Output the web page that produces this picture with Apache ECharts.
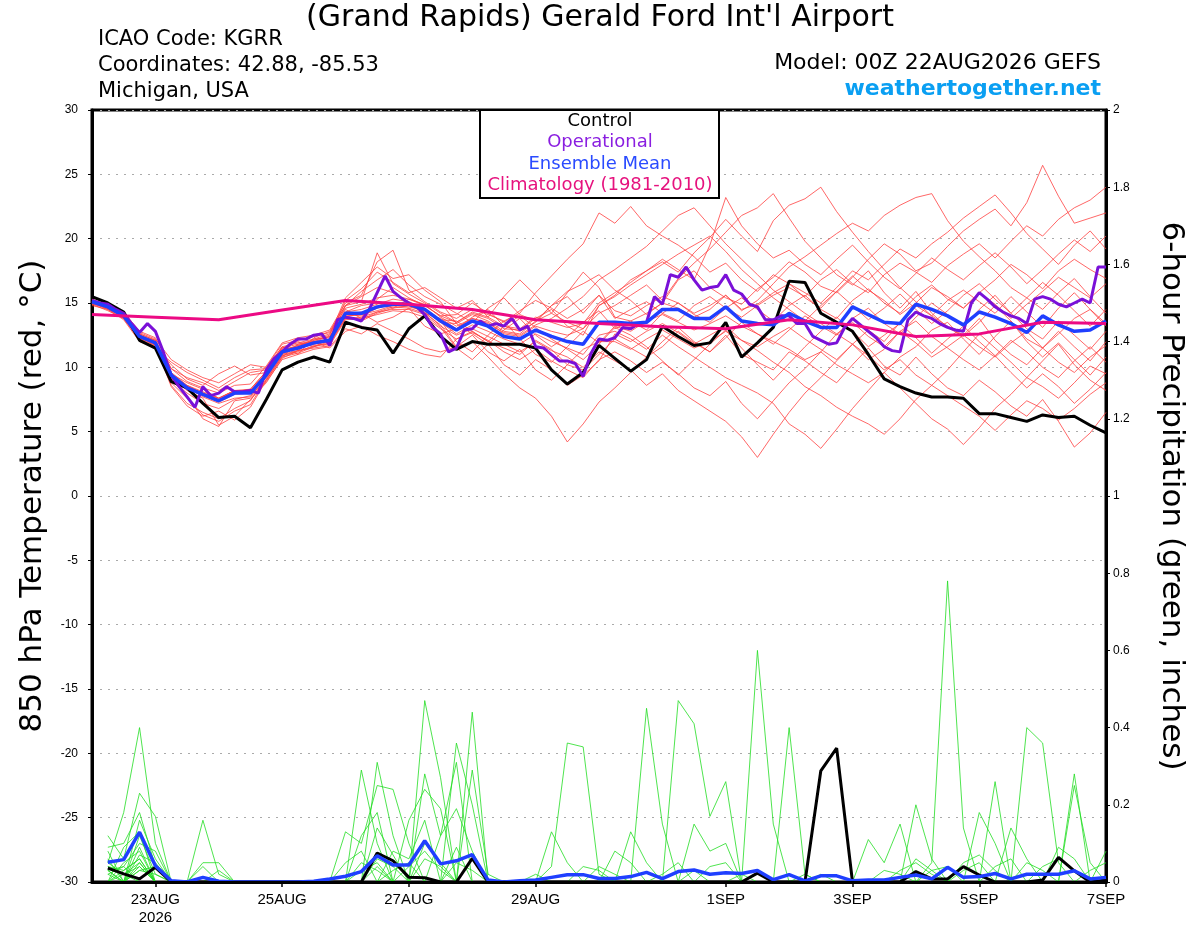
<!DOCTYPE html>
<html><head><meta charset="utf-8">
<script src="https://cdn.jsdelivr.net/npm/echarts@6/dist/echarts.min.js"></script>
<style>html,body{margin:0;padding:0;background:#fff}#chart{width:1200px;height:927px}</style>
</head><body><div id="chart"></div>
<script>
// x positions are hours after 00Z 22AUG2026
const tickHours = [24,72,120,168,240,288,336,384];
const tickLabels = ['23AUG\n2026','25AUG','27AUG','29AUG','1SEP','3SEP','5SEP','7SEP'];
const ensStepHours = 6, opStepHours = 3, climStepHours = 24;

// 850 hPa temperature (deg C), 6-hourly
const control = [15.5,15.0,14.3,12.1,11.5,8.9,8.4,7.2,6.1,6.2,5.3,7.5,9.8,10.4,10.8,10.4,13.5,13.1,12.9,11.1,13.0,14.0,12.4,11.4,12.0,11.8,11.8,11.8,11.5,9.8,8.7,9.6,11.7,10.7,9.7,10.6,13.2,12.4,11.7,11.9,13.5,10.8,11.9,13.1,16.7,16.6,14.2,13.5,12.8,11.0,9.1,8.5,8.0,7.7,7.7,7.6,6.4,6.4,6.1,5.8,6.3,6.1,6.2,5.5,4.9];
const ensMean = [15.1,14.7,14.0,12.4,11.9,9.4,8.4,7.9,7.4,8.0,8.0,9.4,11.2,11.5,11.9,12.1,14.2,14.2,14.7,14.9,14.9,14.5,13.6,12.9,13.6,13.2,12.4,12.2,12.9,12.4,12.0,11.8,13.5,13.5,13.4,13.5,14.5,14.5,13.8,13.8,14.7,13.6,13.4,13.3,14.2,13.6,13.1,13.1,14.7,14.1,13.5,13.4,14.9,14.5,14.0,13.3,14.3,13.9,13.4,12.7,14.0,13.3,12.8,12.9,13.6];
// operational run, 3-hourly
const operational = [15.2,15.0,14.9,14.5,14.2,13.4,12.7,13.4,12.8,11.2,9.4,8.5,7.7,6.9,8.5,7.8,8.0,8.5,8.1,8.1,8.2,8.0,9.8,10.7,11.2,11.8,12.2,12.2,12.5,12.6,11.7,13.7,13.9,13.8,13.6,14.5,15.8,17.1,15.9,15.4,15.0,14.7,14.1,13.1,12.6,11.2,11.5,12.9,13.0,13.6,13.2,13.4,13.2,13.8,12.9,13.2,11.6,11.5,11.0,10.5,10.5,10.3,9.3,11.1,12.2,12.1,12.3,13.1,13.0,13.4,13.5,15.5,14.9,17.2,17.0,17.8,16.8,16.0,16.2,16.3,17.2,16.0,15.7,14.9,14.7,13.7,13.7,14.0,14.0,13.4,13.4,12.4,12.1,11.8,11.9,13.1,13.8,13.3,12.8,12.3,11.6,11.3,11.2,13.7,14.3,14.0,13.8,13.4,13.1,12.9,12.8,15.0,15.8,15.3,14.7,14.3,14.0,13.8,13.4,15.3,15.5,15.3,14.9,14.7,15.0,15.3,15.0,17.8,17.8];
// climatology, daily
const climatology = [14.1,13.9,13.7,14.45,15.2,14.9,14.5,13.7,13.4,13.15,13.0,13.7,13.3,12.4,12.6,13.5,13.4];

// ensemble members, temperature
const t01 = [15.0,14.8,14.1,12.6,11.5,10.4,9.6,9.0,8.4,9.2,9.8, 9.9,11.6,11.0,12.3,12.8,14.8,15.5,16.2,15.8,15.0,14.2,13.8, 13.0,13.9,14.5,13.2,12.8,13.5,14.8,15.9,16.5,17.2, 16.0,15.2,14.1,15.0,16.8,17.5,16.2,15.4,14.9,16.1,17.0,18.2, 17.4,16.3,15.8,17.0,18.4,19.6,18.8,17.5,18.1,19.4, 20.6,21.5,22.3,21.0,22.8,25.7,23.3,21.2,21.6,22.0];
const t02 = [15.2,14.6,13.8,12.2,12.0,9.0,8.0,7.2,6.8,7.5,7.8, 9.0,10.8,11.8,12.0,11.5,12.8,13.2,12.5,12.0,11.4,11.0,10.8, 12.2,12.8,12.0,11.5,11.0,12.1,11.4,10.2,9.8,11.0, 12.2,11.5,10.8,12.0,13.1,12.0,11.2,12.5,11.0,10.4,9.8,11.2, 10.5,9.6,8.8,10.2,11.5,10.1,9.4,10.8,9.5,8.4, 7.8,9.0,8.1,7.0,6.2,7.5,5.8,3.8,4.9,6.5];
const t03 = [14.9,14.9,14.2,12.5,11.8,10.2,9.1,8.6,9.5,10.1,9.4, 9.6,11.5,12.0,11.6,12.2,14.5,13.8,15.3,16.2,15.4,14.8,14.0, 13.5,14.2,13.8,13.0,12.9,13.8,14.5,13.2,12.5,14.8, 15.6,16.8,17.5,18.2,17.4,18.9,20.1,21.5,20.2,19.0,21.4,22.6, 23.1,24.0,22.1,20.5,19.0,17.6,16.2,15.1,14.0,13.2, 12.5,13.8,12.1,11.0,10.2,11.5,12.8,11.6,10.5,12.0];
const t04 = [15.3,14.7,13.9,12.3,11.7,9.1,8.5,7.7,7.2,7.6,7.7, 9.2,10.9,11.3,11.6,12.0,13.9,13.6,14.2,14.6,14.8,14.3,13.2, 12.5,13.0,12.4,11.8,11.2,12.0,11.3,10.8,10.0,11.2, 10.5,9.8,8.6,9.5,8.2,7.4,6.6,5.8,4.6,3.0,4.8,6.5, 8.0,9.2,10.5,11.8,12.9,12.0,13.5,14.8,14.0,15.2, 16.0,15.1,14.2,15.5,14.3,13.1,14.6,15.8,14.5,13.4];
const t05 = [15.1,14.5,14.0,12.6,12.1,9.5,8.8,8.3,7.6,8.2,8.1, 9.5,11.0,11.3,12.1,12.4,14.3,14.8,15.0,14.6,15.3,14.9,13.9, 13.2,13.8,13.5,12.6,12.4,13.2,12.8,12.5,13.0,14.2, 14.8,15.6,16.4,15.2,16.9,18.1,19.2,20.5,21.8,22.4,23.5,21.6, 19.8,18.5,17.2,16.4,17.5,15.8,14.6,15.9,14.2,13.1, 12.4,13.5,14.8,13.6,12.2,11.5,12.6,13.8,14.5,13.2];
const t06 = [14.8,14.5,13.7,12.0,11.6,9.0,7.8,6.0,5.4,7.4,7.6, 8.9,10.6,11.0,11.4,11.6,13.0,12.6,13.4,12.8,12.2,11.5,11.2, 11.6,12.0,10.8,9.5,8.4,7.6,6.2,4.2,5.6,7.3, 8.4,9.6,10.8,11.6,12.8,11.9,11.2,12.3,13.5,12.6,11.8,12.9, 14.0,13.2,12.5,13.8,14.6,13.4,12.6,13.9,15.0,14.1, 13.2,14.5,15.6,14.2,13.0,12.2,13.6,12.5,11.4,12.8];
const t07 = [15.2,14.8,14.3,12.8,12.3,9.9,8.9,8.4,8.0,8.6,8.7, 10.1,11.9,12.3,12.5,12.9,15.0,15.6,18.2,19.1,16.0,15.1,14.3, 13.8,14.5,14.1,13.6,14.2,15.8,17.1,18.4,19.6,22.0, 21.2,22.5,21.0,20.2,19.5,18.6,17.4,18.1,16.8,15.9,17.2,16.5, 15.4,14.6,15.9,17.1,16.0,15.2,14.1,15.0,16.2,15.5, 14.6,15.8,16.8,18.0,17.2,16.1,17.5,18.4,17.6,16.9];
const t08 = [15.0,14.6,13.9,12.2,11.9,8.6,7.2,6.5,6.0,6.8,7.4, 9.3,11.0,11.6,11.8,12.0,14.0,14.1,14.4,14.8,14.7,14.4,13.5, 12.6,13.3,12.8,12.2,11.8,12.6,12.0,11.5,11.0,12.5, 12.8,12.2,11.4,12.5,11.6,10.8,10.0,9.2,8.6,8.0,7.2,5.6, 4.8,3.7,5.2,6.8,8.2,9.6,10.8,11.6,12.9,13.5, 12.2,11.0,12.4,13.6,12.0,10.8,11.9,10.6,9.4,10.8];
const t09 = [15.1,14.7,14.0,12.4,11.8,9.4,8.6,8.0,7.5,8.1,8.3, 9.7,11.4,11.6,12.2,12.3,15.2,16.1,17.4,16.6,15.8,16.2,15.4, 14.6,15.2,13.9,15.5,16.8,15.6,14.2,15.8,17.4,16.2, 13.9,13.6,14.2,15.0,14.6,13.9,14.5,15.6,14.4,15.2,16.5,17.8, 18.6,19.5,20.4,21.2,20.6,21.8,22.6,23.2,23.5,21.4, 19.8,18.6,17.5,16.2,15.4,14.5,15.8,16.9,15.5,14.2];
const t10 = [14.9,14.4,13.8,12.1,11.6,8.8,7.6,6.3,5.8,6.6,7.1, 9.1,10.9,11.2,11.7,11.8,13.8,13.9,14.3,14.5,14.5,14.1,13.1, 11.5,10.6,11.8,10.2,9.4,10.6,9.8,8.6,9.4,10.5, 12.6,12.0,12.8,13.4,12.7,11.8,12.5,13.2,12.1,11.3,10.4,9.6, 8.5,7.8,6.9,6.2,5.6,4.8,6.0,7.5,8.6,9.8, 11.2,12.6,11.5,10.4,9.2,10.5,11.8,10.2,9.0,8.2];
const t11 = [15.2,14.9,14.1,12.5,12.0,9.5,8.4,7.9,7.4,8.0,8.0, 9.4,11.2,11.4,11.9,12.2,14.1,14.3,14.6,15.0,15.0,14.5,13.6, 12.0,11.2,12.5,13.6,12.2,11.0,10.4,11.6,12.8,11.9, 13.2,12.8,13.6,14.1,13.5,12.9,13.4,14.0,13.2,12.6,12.0,11.4, 10.6,11.2,10.2,9.5,8.8,9.6,8.4,7.2,6.0,5.2, 4.0,5.3,6.8,7.9,9.2,8.5,7.6,8.8,10.1,9.5];
const t12 = [15.0,14.7,14.1,12.5,12.0,9.9,9.2,8.8,8.2,8.9,9.6, 9.8,11.6,11.9,12.2,12.6,14.6,14.9,15.4,15.6,15.3,14.8,14.0, 14.1,15.0,14.2,13.5,14.4,15.2,14.6,13.8,14.5,15.6, 14.4,14.0,14.8,15.5,15.0,14.2,14.8,15.6,14.5,14.9,15.8,16.5, 15.8,15.0,16.2,17.5,16.8,18.0,19.2,18.5,19.6,20.5, 21.6,22.5,23.4,22.0,20.4,19.2,18.0,19.5,20.6,19.2];
const t13 = [15.1,14.6,13.9,12.3,11.9,9.3,8.4,7.9,7.4,8.0,8.1, 9.5,11.1,11.5,11.8,12.1,14.8,15.9,16.8,17.6,16.4,15.5,14.9, 14.2,13.5,14.6,15.4,14.1,13.6,14.8,15.5,14.2,15.6, 13.8,14.5,15.1,14.2,13.6,14.8,15.5,14.6,13.9,14.8,15.6,16.2, 15.5,16.8,17.6,16.5,15.8,17.2,18.1,17.4,16.6,17.9, 18.8,19.6,18.5,19.8,21.0,20.2,21.5,22.4,23.0,24.0];
const t14 = [15.3,14.8,14.0,12.4,12.1,9.2,8.2,7.6,5.5,6.2,7.5, 8.8,10.7,11.3,11.5,11.7,13.7,13.8,14.1,14.4,14.3,13.9,13.0, 12.2,12.7,12.1,11.2,10.6,11.4,10.5,9.8,9.2,10.6, 11.2,10.5,9.6,10.4,9.5,8.4,7.8,8.9,7.2,6.0,7.4,8.8, 9.9,11.2,12.6,11.8,10.6,11.4,12.8,13.6,12.4,11.5, 10.6,9.8,10.9,12.1,11.2,10.0,9.2,10.5,11.6,10.4];
const t15 = [14.9,14.6,13.9,12.3,11.8,9.5,8.5,8.0,7.5,8.1,8.2, 9.6,11.3,11.7,12.0,12.4,13.9,14.2,13.5,13.9,14.6,13.2,12.6, 13.0,13.8,13.4,12.7,12.5,13.3,13.8,14.6,15.5,16.8, 17.6,18.5,19.4,20.6,21.8,22.4,21.0,19.6,18.4,17.2,16.0,15.1, 14.2,13.4,12.6,13.5,12.4,11.6,12.8,11.9,10.8,11.6, 12.5,11.6,10.8,11.9,12.8,11.5,10.4,9.6,10.8,11.7];
const t16 = [15.2,14.7,14.1,12.5,11.9,9.3,8.3,7.8,7.3,7.9,8.0, 9.3,11.1,11.5,11.9,12.0,14.1,14.0,14.6,14.9,14.8,14.4,13.5, 13.4,12.6,11.8,12.9,13.8,12.5,11.6,12.4,13.5,14.4, 13.0,13.6,12.9,14.2,15.0,14.1,13.5,14.6,15.4,14.5,13.6,14.8, 15.6,14.5,13.8,15.2,16.1,15.0,14.2,15.5,16.4,15.3, 14.6,15.8,14.9,13.8,14.9,15.9,17.0,16.2,15.4,16.5];
const t17 = [15.0,14.5,13.8,12.2,11.7,8.5,7.0,6.2,6.6,5.9,6.9, 9.0,10.8,11.1,11.6,11.9,13.8,13.7,14.3,14.7,14.6,14.2,13.3, 11.6,12.5,11.2,10.5,11.4,9.8,9.0,10.2,11.4,12.0, 12.0,11.4,12.2,12.9,12.2,11.5,12.0,12.8,12.1,11.6,12.4,13.1, 12.2,11.4,10.6,11.8,10.9,9.8,10.6,9.4,8.6,7.8, 7.0,6.2,5.1,6.3,7.4,6.8,5.9,6.8,7.9,8.8];
const t18 = [15.1,14.8,14.2,12.7,12.2,10.6,9.8,9.2,8.8,9.5,10.2, 10.0,11.8,12.1,12.4,12.7,14.8,15.1,18.9,16.5,15.7,15.0,14.2, 13.5,14.3,13.9,13.2,13.0,13.9,13.5,13.1,13.4,15.0, 15.8,16.6,17.5,18.4,17.6,16.8,19.5,23.2,21.0,19.6,18.5,19.1, 18.0,17.2,18.4,19.5,18.2,17.0,16.1,17.3,18.5,17.6, 16.8,17.9,18.9,17.8,16.5,17.6,18.8,19.9,19.0,20.2];
const t19 = [15.0,14.7,14.0,12.4,11.8,9.4,8.5,8.0,7.6,8.2,8.2, 9.5,11.3,11.7,12.0,12.2,14.3,14.5,14.9,15.3,15.1,14.6,13.7, 13.6,12.8,12.0,13.2,14.0,13.1,12.2,11.4,10.6,11.8, 13.1,12.5,11.6,10.5,9.4,10.6,11.8,12.9,11.5,10.2,9.0,10.3, 11.6,12.8,13.9,12.8,11.6,12.5,13.4,12.3,11.1,12.2, 13.2,12.0,10.9,9.6,8.4,9.5,8.5,7.2,8.3,9.6];
const t20 = [15.2,14.8,14.2,12.6,12.1,9.6,8.6,8.1,7.6,8.2,8.3, 9.7,11.5,11.8,12.1,12.5,15.4,16.6,17.8,16.9,17.2,16.0,15.1, 13.4,14.1,13.6,12.8,12.6,13.6,14.2,13.5,13.0,14.8, 15.5,16.4,17.2,18.0,18.8,19.5,20.2,19.0,17.6,16.5,15.4,14.5, 13.6,14.8,15.9,14.8,13.7,14.6,15.7,14.5,13.4,14.4, 15.6,16.5,15.3,14.2,15.4,16.6,15.6,14.4,13.2,14.5];

// 6-hour precipitation (inches); first time has no value
const precipControl = [null,.036,.021,.008,.038, 0,0,0,0,0, 0,0,0,0,0, 0,0,0,.075,.055, .012,.011,0,0,.061, 0,0,0,0,0, 0,0,0,0,0, 0,0,0,0,0, 0,0,.023,0,0, 0,.288,.347,0,0, 0,0,.027,.008,.008, .040,.018,0,0,0, .005,.064,.029,0,.005];
const precipMean = [null,.051,.058,.129,.042, .003,0,.012,.002,0, 0,0,0,0,.002, .008,.015,.027,.068,.044, .044,.107,.047,.055,.071, .005,0,.003,.005,.012, .019,.019,.009,.009,.014, .025,.009,.027,.031,.020, .024,.022,.030,.006,.019, .003,.016,.016,.003,.005, .005,.012,.018,.008,.038, .012,.014,.022,.008,.020, .020,.020,.029,.008,.012];
const p01 = [null,.05,.18,.40,.10, 0,0,0,0,0, 0,0,0,0,0, 0,0,.29,.10,0, 0,0,0,0,0, 0,0,0,0,.04, .36,.35,.02,0,0, 0,0,0,0,0, 0,0,0,0,0, 0,0,0,0,0, 0,0,0,.05,.78, .14,0,0,0,0, 0,0,0,0,0];
const p02 = [null,.12,.06,.23,.17, 0,0,0,0,0, 0,0,0,0,0, 0,0,0,0,0, 0,.47,.27,0,0, 0,0,0,0,0, 0,0,0,0,0, 0,0,0,0,0, 0,0,.60,.15,0, 0,0,0,0,0, 0,0,0,0,0, 0,0,0,0,.40, .36,.05,0,0,0];
const p03 = [null,.09,.10,.18,.04, 0,0,.16,.02,0, 0,0,0,0,0, 0,0,0,0,0, 0,0,0,0,.44, 0,0,0,0,0, 0,0,0,0,0, .45,.15,0,0,0, 0,0,0,0,0, 0,0,0,0,0, 0,0,0,0,0, 0,0,0,0,0, 0,0,.28,0,0];
const p04 = [null,.06,0,.16,.06, 0,0,0,0,0, 0,0,0,0,0, 0,0,0,.31,.12, 0,0,0,0,0, 0,0,0,0,0, 0,0,0,0,0, 0,0,.47,.41,.17, .26,0,0,0,0, 0,0,0,0,0, 0,0,0,0,0, 0,0,.26,0,0, 0,0,0,0,0];
const p05 = [null,.03,.04,.10,.08, 0,0,0,0,0, 0,0,0,0,0, 0,0,0,0,0, 0,0,0,.36,.20, 0,0,0,0,0, 0,0,0,0,0, 0,0,0,0,0, 0,0,0,0,.40, .02,0,0,0,0, 0,0,.20,.06,0, 0,0,0,0,0, 0,0,0,0,0];
const p06 = [null,0,.09,.13,0, 0,0,0,0,0, 0,0,0,0,0, 0,.13,.10,.25,.24, .10,0,0,0,0, 0,0,0,0,0, 0,0,0,0,.13, .05,0,0,0,0, 0,0,0,0,0, 0,0,0,0,0, 0,0,0,0,0, 0,.18,.10,0,0, 0,0,0,0,0];
const p07 = [null,.02,0,.07,.05, 0,0,.05,.05,0, 0,0,0,0,0, 0,0,0,0,0, 0,.28,.12,.31,0, 0,0,0,0,0, 0,0,0,0,0, 0,0,0,.15,.08, .10,0,0,0,0, 0,0,0,0,0, 0,0,0,0,0, 0,0,0,0,0, 0,0,.25,.05,0];
const p08 = [null,.04,.02,.05,0, 0,0,0,0,0, 0,0,0,0,0, 0,0,0,0,0, .16,.24,.19,0,0, 0,0,0,0,0, 0,0,0,0,0, 0,0,0,0,0, 0,0,0,0,0, 0,0,0,0,.11, .05,.15,0,0,0, 0,0,0,0,0, 0,0,0,0,0];
const p09 = [null,0,.03,.06,0, 0,0,0,0,0, 0,0,0,0,0, 0,0,.12,.18,0, 0,0,0,0,.29, .02,0,0,0,.13, .05,0,0,0,0, 0,0,0,0,0, 0,0,0,0,0, 0,0,0,0,0, 0,0,0,0,0, 0,0,0,.14,.06, 0,0,0,0,0];
const p10 = [null,.08,0,.12,.02, 0,0,0,0,0, 0,0,0,0,0, 0,0,0,0,.08, .06,.16,0,0,0, 0,0,0,0,0, 0,0,0,.08,.05, 0,0,0,0,0, 0,0,0,0,0, 0,0,0,0,0, 0,0,0,0,0, 0,0,0,0,0, 0,0,0,0,.08];
const p11 = [null,0,0,.09,0, 0,0,0,0,0, 0,0,0,0,0, 0,0,0,0,0, 0,0,.12,.19,.08, 0,0,0,0,0, 0,0,0,0,0, 0,0,0,0,0, 0,0,0,0,0, 0,0,0,0,0, 0,0,0,0,0, 0,0,0,0,0, 0,.09,.06,0,0];
const p12 = [null,.05,.02,0,0, 0,0,.04,0,0, 0,0,0,0,0, 0,0,0,.14,.07, 0,0,0,0,0, 0,0,0,0,0, 0,0,0,0,0, 0,0,0,0,.04, .05,0,0,0,0, 0,0,0,0,0, 0,.03,.05,.02,0, 0,0,0,0,0, 0,0,0,0,0];
const p13 = [null,0,.05,.08,0, 0,0,0,0,0, 0,0,0,0,0, 0,.05,.08,0,0, 0,.10,.05,0,0, 0,0,0,0,0, 0,0,0,0,0, 0,0,0,0,0, 0,0,0,0,0, .02,0,0,0,0, 0,0,0,0,0, .05,.07,.03,0,0, 0,0,0,0,0];
const p14 = [null,.03,0,.04,0, 0,0,0,0,0, 0,0,0,0,0, 0,0,0,.06,.04, 0,0,0,.09,0, 0,0,0,0,0, 0,.04,.03,0,0, 0,0,0,0,0, 0,0,0,0,0, 0,0,0,0,0, 0,0,0,0,0, 0,0,0,0,0, .04,.06,.03,0,0];
const p15 = [null,0,0,.03,.02, 0,0,0,0,0, 0,0,0,0,0, 0,0,0,0,0, .04,.08,.03,0,0, 0,0,0,0,0, 0,0,0,0,0, 0,.02,.05,0,0, 0,0,0,0,0, 0,0,0,0,0, 0,0,0,.03,.04, 0,0,0,0,0, 0,0,0,0,0];
const p16 = [null,.02,.04,0,0, 0,0,0,0,0, 0,0,0,0,0, 0,0,.03,.05,0, 0,0,0,0,.06, 0,0,0,0,0, 0,0,0,0,0, 0,0,0,0,0, 0,.02,0,0,0, 0,0,0,0,0, 0,0,0,0,0, 0,0,.04,.06,0, 0,0,0,0,0];
const p17 = [null,0,0,.05,0, 0,0,0,.03,0, 0,0,0,0,0, 0,0,0,0,.03, .05,0,0,0,0, 0,0,0,.02,0, 0,0,0,0,0, 0,0,0,0,0, 0,0,0,0,0, 0,0,0,0,0, .03,.02,0,0,0, 0,0,0,0,0, 0,0,0,.03,.05];
const p18 = [null,.04,.03,.06,0, 0,0,0,0,0, 0,0,0,0,0, 0,0,0,0,0, 0,.06,.04,0,0, 0,0,0,0,0, 0,0,0,0,0, 0,0,0,.03,0, 0,0,0,0,0, 0,0,0,0,0, 0,0,.06,.03,0, 0,0,0,0,0, 0,0,0,0,0];
const p19 = [null,0,.02,.04,0, 0,0,0,0,0, 0,0,0,0,0, 0,0,0,.04,0, 0,0,0,.05,.03, 0,0,0,0,0, 0,0,0,0,0, 0,0,0,0,0, 0,0,0,0,0, 0,.02,0,0,0, 0,0,0,0,0, 0,0,0,0,.05, .03,0,0,0,0];
const p20 = [null,.03,0,.03,.04, 0,0,0,0,0, 0,0,0,0,0, 0,0,.05,.03,0, 0,0,0,0,0, 0,0,0,0,0, 0,0,.04,.02,0, 0,0,0,0,0, 0,0,0,0,0, 0,0,0,0,0, 0,0,0,0,0, .03,.05,0,0,0, 0,0,0,0,0];

const tempMembers = [t01,t02,t03,t04,t05,t06,t07,t08,t09,t10,t11,t12,t13,t14,t15,t16,t17,t18,t19,t20];
const precipMembers = [p01,p02,p03,p04,p05,p06,p07,p08,p09,p10,p11,p12,p13,p14,p15,p16,p17,p18,p19,p20];

function pairs(values, stepHours) {
  const out = [];
  values.forEach((v, i) => { if (v !== null) out.push([i * stepHours, v]); });
  return out;
}

const BIG = '"DejaVu Sans", "Liberation Sans", Arial, sans-serif';
const SMALL = '"Liberation Sans", Arial, sans-serif';

const series = [];
tempMembers.forEach((m, i) => series.push({
  name: 'member ' + (i + 1) + ' temp', type: 'line', yAxisIndex: 0, data: pairs(m, ensStepHours),
  symbol: 'none', silent: true, z: 2, lineStyle: { color: '#ff4040', width: 0.8 }
}));
precipMembers.forEach((m, i) => series.push({
  name: 'member ' + (i + 1) + ' precip', type: 'line', yAxisIndex: 1, data: pairs(m, ensStepHours),
  symbol: 'none', silent: true, z: 2, lineStyle: { color: '#22dd22', width: 0.8 }
}));
series.push(
  { name: 'Control', type: 'line', yAxisIndex: 0, data: pairs(control, ensStepHours), symbol: 'none', z: 4, lineStyle: { color: '#000', width: 3 } },
  { name: 'Control precip', type: 'line', yAxisIndex: 1, data: pairs(precipControl, ensStepHours), symbol: 'none', z: 4, lineStyle: { color: '#000', width: 3 } },
  { name: 'Operational', type: 'line', yAxisIndex: 0, data: pairs(operational, opStepHours), symbol: 'none', z: 5, lineStyle: { color: '#7a10d8', width: 3 } },
  { name: 'Ensemble Mean', type: 'line', yAxisIndex: 0, data: pairs(ensMean, ensStepHours), symbol: 'none', z: 6, lineStyle: { color: '#1f3fff', width: 3.5 } },
  { name: 'Ensemble Mean precip', type: 'line', yAxisIndex: 1, data: pairs(precipMean, ensStepHours), symbol: 'none', z: 6, lineStyle: { color: '#1f3fff', width: 3.5 } },
  { name: 'Climatology (1981-2010)', type: 'line', yAxisIndex: 0, data: pairs(climatology, climStepHours), symbol: 'none', z: 7, lineStyle: { color: '#ec0a84', width: 3 } }
);

function txt(x, y, text, font, align, color) {
  return { type: 'text', x: x, y: y, z: 100, silent: true,
    style: { text: text, font: font, fill: color || '#000', textAlign: align, textVerticalAlign: 'middle', align: align, verticalAlign: 'middle' } };
}

const legendItems = [['Control', '#000000'], ['Operational', '#8a1ee0'], ['Ensemble Mean', '#2a4bff'], ['Climatology (1981-2010)', '#e6127e']];
const legendGraphics = [{ type: 'rect', z: 99, silent: true, shape: { x: 480, y: 110, width: 239, height: 88 }, style: { fill: '#fff', stroke: '#000', lineWidth: 2 } }];
legendItems.forEach((it, i) => legendGraphics.push(txt(600, 121 + i * 21.6, it[0], '18px ' + BIG, 'center', it[1])));

const chart = echarts.init(document.getElementById('chart'), null, { renderer: 'canvas' });
chart.setOption({
  animation: false,
  backgroundColor: '#fff',
  grid: { left: 92, right: 94, top: 110, bottom: 44, show: true, borderColor: '#000', borderWidth: 3, backgroundColor: 'transparent' },
  xAxis: {
    type: 'value', min: 0, max: 384, interval: 24, z: 10,
    axisLine: { show: true, onZero: false, lineStyle: { color: '#000', width: 3 } },
    axisTick: { show: true, customValues: tickHours, length: 5, lineStyle: { color: '#000', width: 1.5 } },
    axisLabel: { customValues: tickHours, color: '#000', fontSize: 15, fontFamily: SMALL, margin: 9, lineHeight: 18,
      formatter: v => { const i = tickHours.indexOf(v); return i >= 0 ? tickLabels[i] : ''; } },
    splitLine: { show: false }
  },
  yAxis: [
    { type: 'value', min: -30, max: 30, interval: 5, position: 'left',
      name: '850 hPa Temperature (red, \u00B0C)', nameLocation: 'middle', nameGap: 44,
      nameTextStyle: { fontSize: 31, fontFamily: BIG, color: '#000' },
      axisLine: { show: true, onZero: false, lineStyle: { color: '#000', width: 3 } },
      axisTick: { show: true, length: 4, lineStyle: { color: '#000', width: 1 } },
      axisLabel: { color: '#000', fontSize: 12, fontFamily: SMALL, margin: 14 },
      splitLine: { show: true, lineStyle: { color: '#aaa', width: 1, type: [2, 6] } } },
    { type: 'value', min: 0, max: 2, interval: 0.2, position: 'right',
      name: '6-hour Precipitation (green, inches)', nameLocation: 'middle', nameGap: 50, nameRotate: -90,
      nameTextStyle: { fontSize: 31, fontFamily: BIG, color: '#000' },
      axisLine: { show: true, onZero: false, lineStyle: { color: '#000', width: 3 } },
      axisTick: { show: true, length: 4, lineStyle: { color: '#000', width: 1 } },
      axisLabel: { color: '#000', fontSize: 12, fontFamily: SMALL, margin: 7 },
      splitLine: { show: false } }
  ],
  series: series,
  graphic: [
    txt(600, 18, "(Grand Rapids) Gerald Ford Int'l Airport", '30px ' + BIG, 'center'),
    txt(98, 40, 'ICAO Code: KGRR', '21px ' + BIG, 'left'),
    txt(98, 66, 'Coordinates: 42.88, -85.53', '21px ' + BIG, 'left'),
    txt(98, 92, 'Michigan, USA', '21px ' + BIG, 'left'),
    txt(1101, 63, 'Model: 00Z 22AUG2026 GEFS', '22px ' + BIG, 'right'),
    txt(1101, 89, 'weathertogether.net', 'bold 22px ' + BIG, 'right', '#0a9ff2')
  ].concat(legendGraphics)
});
</script></body></html>
